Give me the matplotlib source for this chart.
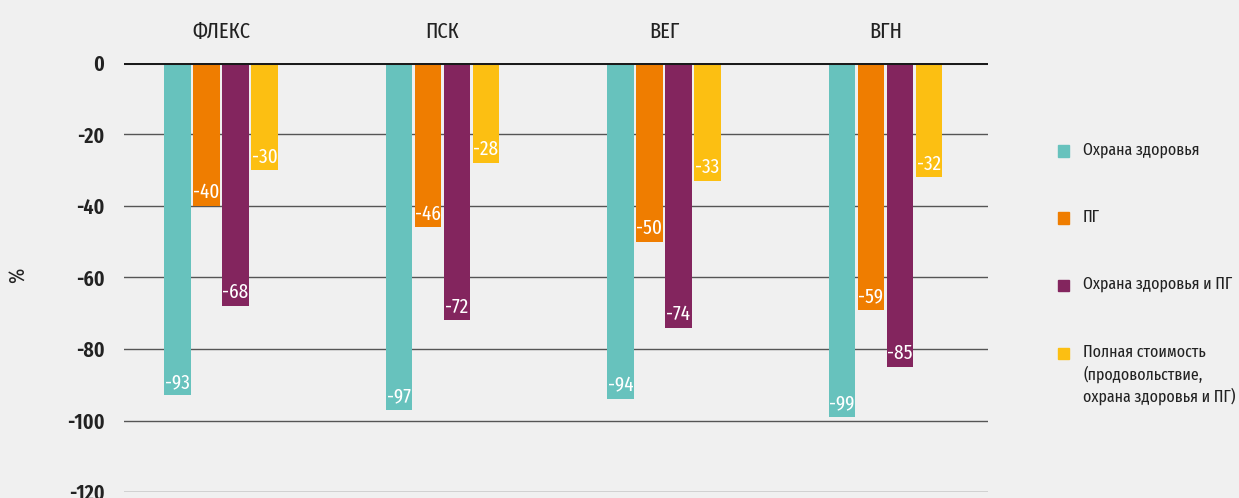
import numpy as np
import matplotlib.pyplot as plt
from matplotlib.patches import Rectangle

plt.rcParams['font.family'] = ['Fira Sans Extra Condensed', 'PT Sans Narrow', 'DejaVu Sans']
plt.rcParams['axes.unicode_minus'] = False

groups = ['ФЛЕКС', 'ПСК', 'ВЕГ', 'ВГН']
series = ['Охрана здоровья', 'ПГ', 'Охрана здоровья и ПГ',
          'Полная стоимость\n(продовольствие,\nохрана здоровья и ПГ)']
colors = ['#67c2bd', '#ef7d00', '#83255e', '#fcbf12']

health = [-93, -97, -94, -99]
ghg = [-40, -46, -50, -69]          # last bar is drawn at about -69 in the source
health_ghg = [-68, -72, -74, -85]
full_cost = [-30, -28, -33, -32]
values = [health, ghg, health_ghg, full_cost]
labels = [['-93', '-97', '-94', '-99'],
          ['-40', '-46', '-50', '-59'],
          ['-68', '-72', '-74', '-85'],
          ['-30', '-28', '-33', '-32']]
yticks = [0, -20, -40, -60, -80, -100, -120]

bg = '#f0f0f0'
txt = '#222222'
fig = plt.figure(figsize=(12.39, 4.98), dpi=100, facecolor=bg)
ax = fig.add_axes([124/1239, 1-492/498, (988-124)/1239, (492-63)/498])
ax.set_facecolor(bg)

x = np.arange(len(groups))
w = 0.118
step = 0.131
for i, (vals, labs, c) in enumerate(zip(values, labels, colors)):
    pos = x + (i - 1.5) * step
    ax.bar(pos, vals, width=w, color=c, zorder=3)
    for p, v, t in zip(pos, vals, labs):
        ax.annotate(t, (p, v), xytext=(0, 5.5), textcoords='offset points',
                    ha='center', va='baseline', color='white', fontsize=15,
                    zorder=4)

ax.set_xlim(-0.438, 3.463)
ax.set_ylim(-120, 0)
ax.set_yticks(yticks)
ax.set_yticklabels([str(t) for t in yticks], fontsize=15.5, color=txt,
                   fontweight='semibold')
ax.tick_params(axis='y', length=0, pad=14)
ax.set_xticks([])
for s in ax.spines.values():
    s.set_visible(False)
for t in yticks[1:]:
    ax.axhline(t, color='#555555', lw=1.0, zorder=1)
ax.axhline(0, color='#1a1a1a', lw=2.2, zorder=5)
fig.text(18/1239, 1-275/498, '%', rotation=90, ha='center', va='center',
         fontsize=16, color=txt)

for xi, g in zip(x, groups):
    ax.text(xi, 1.058, g, transform=ax.get_xaxis_transform(), ha='center',
            va='baseline', fontsize=16, color=txt)

# legend
leg_y = [151, 218, 285, 353]
for yy, name, c in zip(leg_y, series, colors):
    fig.patches.append(Rectangle((1058/1239, 1-(yy+5.5)/498), 11/1239, 11/498,
                                 transform=fig.transFigure, color=c))
    fig.text(1083/1239, 1-(yy-9)/498, name, ha='left', va='top',
             fontsize=12.5, color=txt, linespacing=1.36)

fig.savefig('out.png', dpi=100, facecolor=bg)
